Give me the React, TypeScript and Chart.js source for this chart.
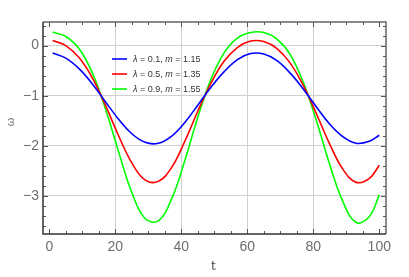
import { useEffect, useRef } from "react";
import { Chart, registerables } from "chart.js";

Chart.register(...registerables);

const tValues = [1, 5, 9, 13, 17, 21, 25, 29, 33, 37, 41, 45, 49, 53, 57, 61, 65, 69, 73, 77, 81, 85, 89, 93, 97, 100];
const blueValues = [-0.15, -0.25, -0.46, -0.76, -1.12, -1.47, -1.76, -1.93, -1.95, -1.81, -1.54, -1.19, -0.83, -0.52, -0.28, -0.16, -0.17, -0.3, -0.55, -0.87, -1.23, -1.57, -1.82, -1.95, -1.91, -1.79];
const redValues = [0.1, 0.0, -0.24, -0.64, -1.19, -1.8, -2.34, -2.68, -2.71, -2.44, -1.92, -1.31, -0.75, -0.31, -0.04, 0.09, 0.08, -0.06, -0.35, -0.8, -1.37, -1.97, -2.47, -2.73, -2.65, -2.39];
const greenValues = [0.27, 0.18, -0.06, -0.54, -1.26, -2.12, -2.93, -3.45, -3.5, -3.07, -2.31, -1.43, -0.67, -0.14, 0.15, 0.26, 0.26, 0.13, -0.18, -0.74, -1.51, -2.38, -3.12, -3.53, -3.41, -2.98];

const lambdaLabels = ["0.1", "0.5", "0.9"];
const mLabels = ["1.15", "1.35", "1.55"];
const seriesColors = ["#0000ff", "#ff0000", "#00ff00"];

const xTickValues = [0, 5, 10, 15, 20, 25, 30, 35, 40, 45, 50, 55, 60, 65, 70, 75, 80, 85, 90, 95, 100];
const xMajorTicks = [0, 20, 40, 60, 80, 100];
const xGridValues = [20, 40, 60, 80];
const yTickValues = [-3.6, -3.4, -3.2, -3.0, -2.8, -2.6, -2.4, -2.2, -2.0, -1.8, -1.6, -1.4, -1.2, -1.0, -0.8, -0.6, -0.4, -0.2, 0.0, 0.2, 0.4];
const yMajorTicks = [-3, -2, -1, 0];

const isIn = (arr: number[], v: number) => arr.some((a) => Math.abs(a - v) < 1e-6);
const fmt = (v: number) => (v < 0 ? "\u2212" + Math.abs(v) : String(v));

const frameAndTicks = {
  id: "frameAndTicks",
  afterDraw(chart: any) {
    const { ctx, chartArea, scales } = chart;
    const { left, right, top, bottom } = chartArea;
    const xs = scales.x;
    const ys = scales.y;
    ctx.save();
    ctx.lineWidth = 1;
    ctx.strokeStyle = "#555";
    ctx.beginPath();
    for (const v of xTickValues) {
      const px = Math.round(xs.getPixelForValue(v)) + 0.5;
      const len = isIn(xMajorTicks, v) ? 5 : 3;
      ctx.moveTo(px, bottom);
      ctx.lineTo(px, bottom - len);
      ctx.moveTo(px, top);
      ctx.lineTo(px, top + len);
    }
    for (const v of yTickValues) {
      const py = Math.round(ys.getPixelForValue(v)) + 0.5;
      const len = isIn(yMajorTicks, v) ? 5 : 3;
      ctx.moveTo(left, py);
      ctx.lineTo(left + len, py);
      ctx.moveTo(right, py);
      ctx.lineTo(right - len, py);
    }
    ctx.stroke();
    ctx.lineWidth = 1.5;
    ctx.strokeStyle = "#666";
    ctx.beginPath();
    ctx.moveTo(left, top);
    ctx.lineTo(right, top);
    ctx.lineTo(right, bottom);
    ctx.stroke();
    ctx.strokeStyle = "#333";
    ctx.beginPath();
    ctx.moveTo(left, top);
    ctx.lineTo(left, bottom);
    ctx.lineTo(right, bottom);
    ctx.stroke();

    // axis titles
    ctx.fillStyle = "#444";
    ctx.font = "12px 'DejaVu Serif'";
    ctx.textAlign = "center";
    ctx.textBaseline = "middle";
    ctx.fillText("t", (left + right) / 2 - 1, 267);
    ctx.save();
    ctx.translate(11, 122);
    ctx.rotate(-Math.PI / 2);
    ctx.fillStyle = "#777";
    ctx.font = "11px 'Liberation Sans'";
    ctx.fillText("\u03c9", 0, 0);
    ctx.restore();

    // legend
    const lx0 = 112;
    const lx1 = 127;
    const tx = 133;
    const rows = [59, 74, 89];
    ctx.textAlign = "left";
    ctx.textBaseline = "middle";
    for (let i = 0; i < 3; i++) {
      const yy = rows[i];
      ctx.strokeStyle = seriesColors[i];
      ctx.lineWidth = 1.6;
      ctx.beginPath();
      ctx.moveTo(lx0, yy);
      ctx.lineTo(lx1, yy);
      ctx.stroke();
      ctx.fillStyle = "#333";
      const parts: [string, boolean][] = [
        ["\u03bb", true],
        [" = " + lambdaLabels[i] + ", ", false],
        ["m", true],
        [" = " + mLabels[i], false],
      ];
      let cx = tx;
      for (const [s, it] of parts) {
        ctx.font = (it ? "italic " : "") + "9px 'Liberation Sans'";
        ctx.fillText(s, cx, yy + 0.5);
        cx += ctx.measureText(s).width;
      }
    }
    ctx.restore();
  },
};

export default function App() {
  const ref = useRef<HTMLCanvasElement | null>(null);
  useEffect(() => {
    document.body.style.margin = "0";
    if (!ref.current) return;
    const mk = (vals: number[]) => tValues.map((t, i) => ({ x: t, y: vals[i] }));
    const chart = new Chart(ref.current, {
      type: "line",
      data: {
        datasets: [blueValues, redValues, greenValues].map((vals, i) => ({
          label: "\u03bb = " + lambdaLabels[i] + ", m = " + mLabels[i],
          data: mk(vals),
          borderColor: seriesColors[i],
          borderWidth: 1.6,
          pointRadius: 0,
          fill: false,
          tension: 0.4,
        })),
      },
      options: {
        animation: false,
        responsive: false,
        maintainAspectRatio: false,
        layout: { padding: { top: 22, right: 23, left: 0, bottom: 0 } },
        plugins: { legend: { display: false }, tooltip: { enabled: false } },
        scales: {
          x: {
            type: "linear",
            min: -1.91,
            max: 102.03,
            afterBuildTicks: (s: any) => {
              s.ticks = xTickValues.map((v) => ({ value: v }));
            },
            afterFit: (s: any) => {
              s.height = 43;
            },
            border: { display: false },
            grid: {
              drawTicks: false,
              color: (c: any) => (c.tick && isIn(xGridValues, c.tick.value) ? "#cfcfcf" : "rgba(0,0,0,0)"),
            },
            ticks: {
              autoSkip: false,
              maxRotation: 0,
              padding: 5,
              color: "#6e6e6e",
              font: { family: "'Liberation Sans'", size: 14 },
              callback: (v: any) => (isIn(xMajorTicks, Number(v)) ? fmt(Number(v)) : ""),
            },
          },
          y: {
            type: "linear",
            min: -3.76,
            max: 0.47,
            afterBuildTicks: (s: any) => {
              s.ticks = yTickValues.map((v) => ({ value: v }));
            },
            afterFit: (s: any) => {
              s.width = 43;
            },
            border: { display: false },
            grid: {
              drawTicks: false,
              color: (c: any) => (c.tick && isIn(yMajorTicks, c.tick.value) ? "#cfcfcf" : "rgba(0,0,0,0)"),
            },
            ticks: {
              autoSkip: false,
              padding: 4,
              color: "#6e6e6e",
              font: { family: "'Liberation Sans'", size: 14 },
              callback: (v: any) => {
                const n = Number(v);
                return isIn(yMajorTicks, n) ? fmt(Math.round(n)) : "";
              },
            },
          },
        },
      },
      plugins: [frameAndTicks],
    });
    return () => chart.destroy();
  }, []);
  return (
    <div style={{ width: 409, height: 277 }}>
      <canvas ref={ref} width={409} height={277} style={{ display: "block", width: 409, height: 277 }} />
    </div>
  );
}
